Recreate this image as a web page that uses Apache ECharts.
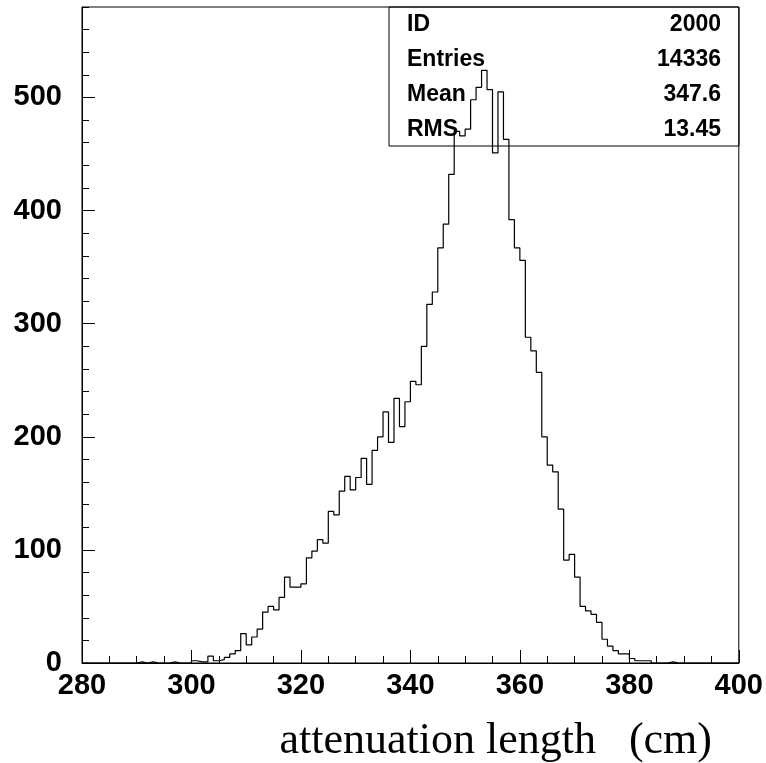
<!DOCTYPE html>
<html><head><meta charset="utf-8">
<script src="https://cdn.jsdelivr.net/npm/echarts@6/dist/echarts.min.js"></script>
<style>html,body{margin:0;padding:0;background:#fff}#c{width:766px;height:763px}</style>
</head><body><div id="c"></div>
<script>
// Histogram: bins of width 1 cm, starting at 280 cm
const binLow = 280;
const binWidth = 1;
const counts = [
  0,0,0,0,0,0,0,0,0,0,
  1,0,1,0,0,0,1,0,0,0,
  2,1,1,6,2,3,5,8,11,26,
  16,23,30,45,50,47,58,76,67,67,
  70,93,99,109,106,134,131,152,165,153,
  164,181,158,188,200,222,195,234,209,231,
  249,246,280,317,328,367,388,432,470,466,
  472,498,509,524,507,451,505,463,392,367,
  356,288,276,257,200,175,169,136,91,96,
  76,50,46,43,36,21,15,11,8,8,
  4,2,2,2,0,0,0,1,0,0,
  0,0,0,0,0,0,0,0,0,0
];
const xTicks = [280, 300, 320, 340, 360, 380, 400];
const yTicks = [0, 100, 200, 300, 400, 500];
const yMax = 580;
const statNames = ['ID', 'Entries', 'Mean', 'RMS'];
const statValues = ['2000', '14336', '347.6', '13.45'];
const xTitle = 'attenuation length   (cm)';

const FONT = '"Liberation Sans", Arial, Helvetica, sans-serif';
const xMin = xTicks[0], xMax = xTicks[xTicks.length - 1];

const stepData = counts.map((c, i) => [binLow + i * binWidth, c]);
stepData.push([binLow + counts.length * binWidth, 0]);

const chart = echarts.init(document.getElementById('c'), null, {renderer: 'canvas'});
const gridPos = {left: 82, right: 27, top: 7, bottom: 100};
chart.setOption({
  animation: false,
  backgroundColor: '#fff',
  title: {
    text: xTitle, right: 54, top: 719, padding: 0,
    textStyle: {fontFamily: '"Liberation Serif", "Times New Roman", serif', fontSize: 44, fontWeight: 'normal', color: '#000'}
  },
  grid: [
    Object.assign({show: true, borderColor: '#000', borderWidth: 1, backgroundColor: 'transparent'}, gridPos),
    Object.assign({show: false}, gridPos)
  ],
  xAxis: [
    {
      type: 'value', gridIndex: 0, min: xMin, max: xMax, interval: 20,
      axisLine: {show: true, lineStyle: {color: '#000', width: 1}},
      axisTick: {show: true, inside: true, length: 13, lineStyle: {color: '#000'}},
      minorTick: {show: true, splitNumber: 4, length: 7, lineStyle: {color: '#000'}},
      splitLine: {show: false},
      axisLabel: {margin: 8, color: '#000', fontFamily: FONT, fontWeight: 'bold', fontSize: 29,
        customValues: xTicks}
    },
    {type: 'value', gridIndex: 1, min: xMin, max: xMax, show: false}
  ],
  yAxis: [
    {
      type: 'value', gridIndex: 0, min: 0, max: yMax, interval: 100,
      axisLine: {show: true, lineStyle: {color: '#000', width: 1}},
      axisTick: {show: true, inside: true, length: 13, lineStyle: {color: '#000'}, customValues: yTicks},
      splitLine: {show: false},
      axisLabel: {margin: 20, color: '#000', fontFamily: FONT, fontWeight: 'bold', fontSize: 29,
        customValues: yTicks}
    },
    {
      type: 'value', gridIndex: 1, min: 0, max: yMax, interval: 20,
      axisLine: {show: false},
      axisTick: {show: true, inside: true, length: 7, lineStyle: {color: '#000'}},
      axisLabel: {show: false},
      splitLine: {show: false}
    }
  ],
  series: [
    {
      type: 'line', xAxisIndex: 0, yAxisIndex: 0, step: 'end', data: stepData,
      symbol: 'none', lineStyle: {color: '#000', width: 1.2}, silent: true
    },
    {type: 'line', xAxisIndex: 1, yAxisIndex: 1, data: [], symbol: 'none'}
  ],
  graphic: [
    {type: 'rect', z: 100, shape: {x: 389, y: 7, width: 350, height: 139},
      style: {fill: 'none', stroke: '#000', lineWidth: 1}}
  ].concat(statNames.map((n, i) => ({
    type: 'text', z: 100, x: 407, y: 25 + i * 34.8,
    style: {text: n, fill: '#000', font: 'bold 23px ' + FONT, align: 'left', verticalAlign: 'middle'}
  }))).concat(statValues.map((v, i) => ({
    type: 'text', z: 100, x: 721, y: 25 + i * 34.8,
    style: {text: v, fill: '#000', font: 'bold 23px ' + FONT, align: 'right', verticalAlign: 'middle'}
  })))
});
</script>
</body></html>
